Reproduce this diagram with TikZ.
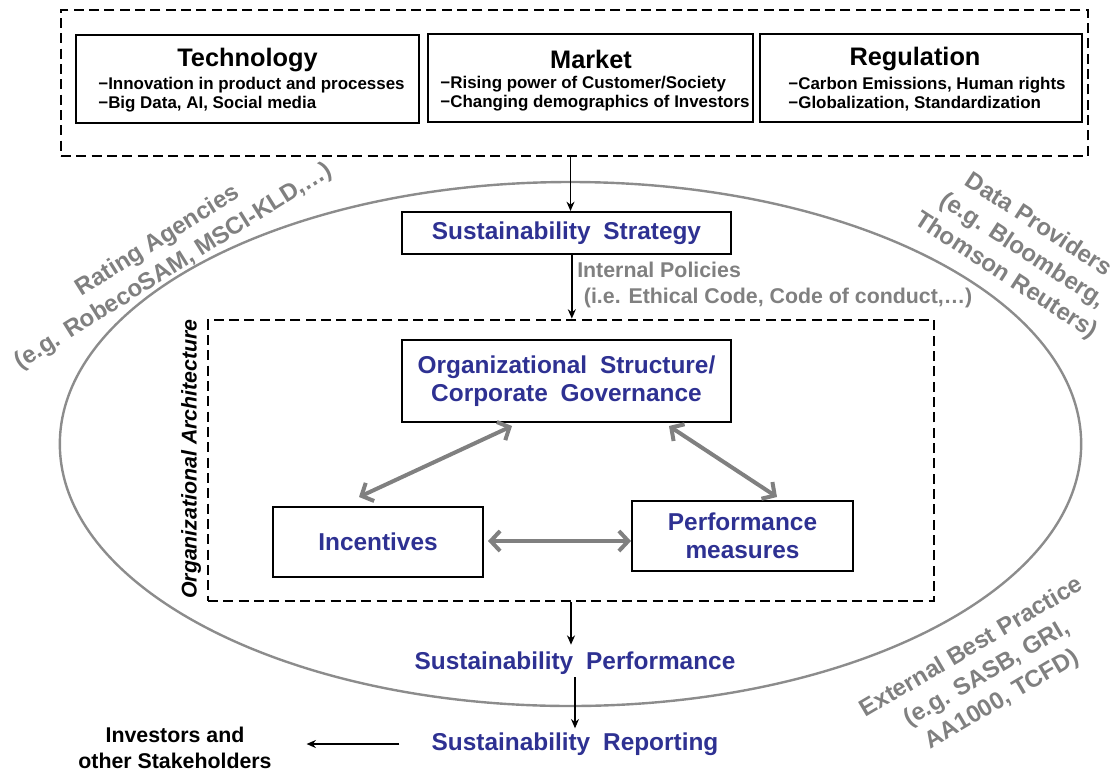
\documentclass[tikz,border=0pt]{standalone}
\usepackage{fontspec}
\setmainfont{Liberation Sans}
\newfontfamily\widesp[WordSpace=1.9]{Liberation Sans}
\usetikzlibrary{arrows.meta,calc}
\definecolor{tblue}{RGB}{46,49,146}
\definecolor{tgray}{RGB}{128,128,128}
\definecolor{egray}{RGB}{140,140,140}
\newcommand\myfs[2]{\fontsize{#1}{#2}\selectfont}
\begin{document}
\begin{tikzpicture}[x=0.75pt,y=-0.75pt,
  box/.style={draw=black, line width=1.5pt, inner sep=0pt},
  dbox/.style={draw=black, line width=2.1pt, dash pattern=on 7.5pt off 4pt, inner sep=0pt},
  blk/.style={-{Stealth[length=7pt,width=6pt]}, line width=1.1pt},
  garrow/.style={{Straight Barb[length=7pt,width=15pt]}-{Straight Barb[length=7pt,width=15pt]}, draw=tgray, line width=3pt},
  ttl/.style={font=\bfseries\myfs{19}{22}, inner sep=0pt},
  sub/.style={font=\bfseries\myfs{12.7}{14.3}, align=left, inner sep=0pt},
  btxt/.style={font=\widesp\bfseries\myfs{18.3}{21}, text=tblue, align=center},
  gtxt/.style={font=\bfseries\myfs{18}{22.5}, text=tgray, align=center, inner sep=0pt}
]
\useasboundingbox (0,0) rectangle (1117,772);

% ellipse
\draw[egray, line width=1.8pt] (570.5,444) ellipse [x radius=383pt, y radius=196.5pt];

% top drivers
\node[dbox, minimum width=770.25pt, minimum height=109.5pt] (outer) at (574.5,83) {};
\node[box, minimum width=257.25pt, minimum height=66pt] (tech) at (247.5,79) {};
\node[box, minimum width=243.75pt, minimum height=66pt] (mkt) at (590.5,78) {};
\node[box, minimum width=241.5pt, minimum height=66pt] (reg) at (921,78) {};
\node[ttl] (techT) at (247.5,60) {Technology};
\node[ttl] (mktT) at (591,59) {Market};
\node[ttl] (regT) at (915,59) {Regulation};
\node[sub] (techS) at (251.5,95) {−Innovation in product and processes\\−Big Data, AI, Social media};
\node[sub] (mktS) at (595,94) {−Rising power of Customer/Society\\−Changing demographics of Investors};
\node[sub] (regS) at (927,94) {−Carbon Emissions, Human rights\\−Globalization, Standardization};

% strategy
\node[box, btxt, minimum width=246.75pt, minimum height=31.5pt] (strat) at (566.5,233) {Sustainability Strategy};
\node[font=\bfseries\myfs{16}{19}, text=tgray, align=left, anchor=west, inner sep=0pt] (pol) at (577,285) {Internal Policies\\\hspace{5pt}(i.e. Ethical Code, Code of conduct,…)};

% organizational architecture
\node[dbox, minimum width=544.5pt, minimum height=210.75pt] (arch) at (571,460.5) {};
\node[font=\bfseries\itshape\myfs{16}{19}, rotate=90, inner sep=0pt] (archT) at (191,459) {Organizational Architecture};
\node[box, btxt, minimum width=246.75pt, minimum height=61.5pt] (org) at (566.5,381) {Organizational Structure/\\Corporate Governance};
\node[box, btxt, minimum width=157.5pt, minimum height=52.5pt] (inc) at (378,542) {Incentives};
\node[box, btxt, minimum width=165.75pt, minimum height=52.5pt] (pm) at (742.5,536) {Performance\\measures};

\draw[garrow] ($(inc.north west)+(87,-9)$) -- ($(org.south west)+(111,3)$);
\draw[garrow] ($(org.south east)+(-63,3)$) -- ($(pm.north west)+(146,-3)$);
\draw[garrow] ($(inc.east)+(4,-1)$) -- ($(pm.west)+(0,5)$);

% outcomes
\node[btxt, inner sep=0pt] (sp) at (575,663) {Sustainability Performance};
\node[btxt, inner sep=0pt] (sr) at (575,744) {Sustainability Reporting};
\node[font=\bfseries\myfs{16}{19}, align=center, inner sep=0pt] (inv) at (175,748) {Investors and\\other Stakeholders};

% black arrows
\draw[blk] ([xshift=3pt]strat.north |- outer.south) -- ([xshift=3pt]strat.north);
\draw[blk] ([xshift=4pt]strat.south) -- ([xshift=4pt]strat.south |- arch.north);
\draw[blk] (arch.south) -- ([yshift=5pt]arch.south |- sp.north);
\draw[blk] ([yshift=-2pt]sp.south) -- ([yshift=3pt]sr.north);
\draw[blk] ([xshift=-24pt]sr.west) -- ([xshift=26pt]inv.east |- sr.west);

% external influences
\node[gtxt, rotate=32] (rat) at (166,254) {Rating Agencies\\(e.g. RobecoSAM, MSCI-KLD,…)};
\node[gtxt, rotate=-33] (dat) at (1022,251) {Data Providers\\(e.g. Bloomberg,\\Thomson Reuters)};
\node[gtxt, rotate=30.5] (ext) at (987,674) {External Best Practice\\(e.g. SASB, GRI,\\AA1000, TCFD)};
\end{tikzpicture}
\end{document}
